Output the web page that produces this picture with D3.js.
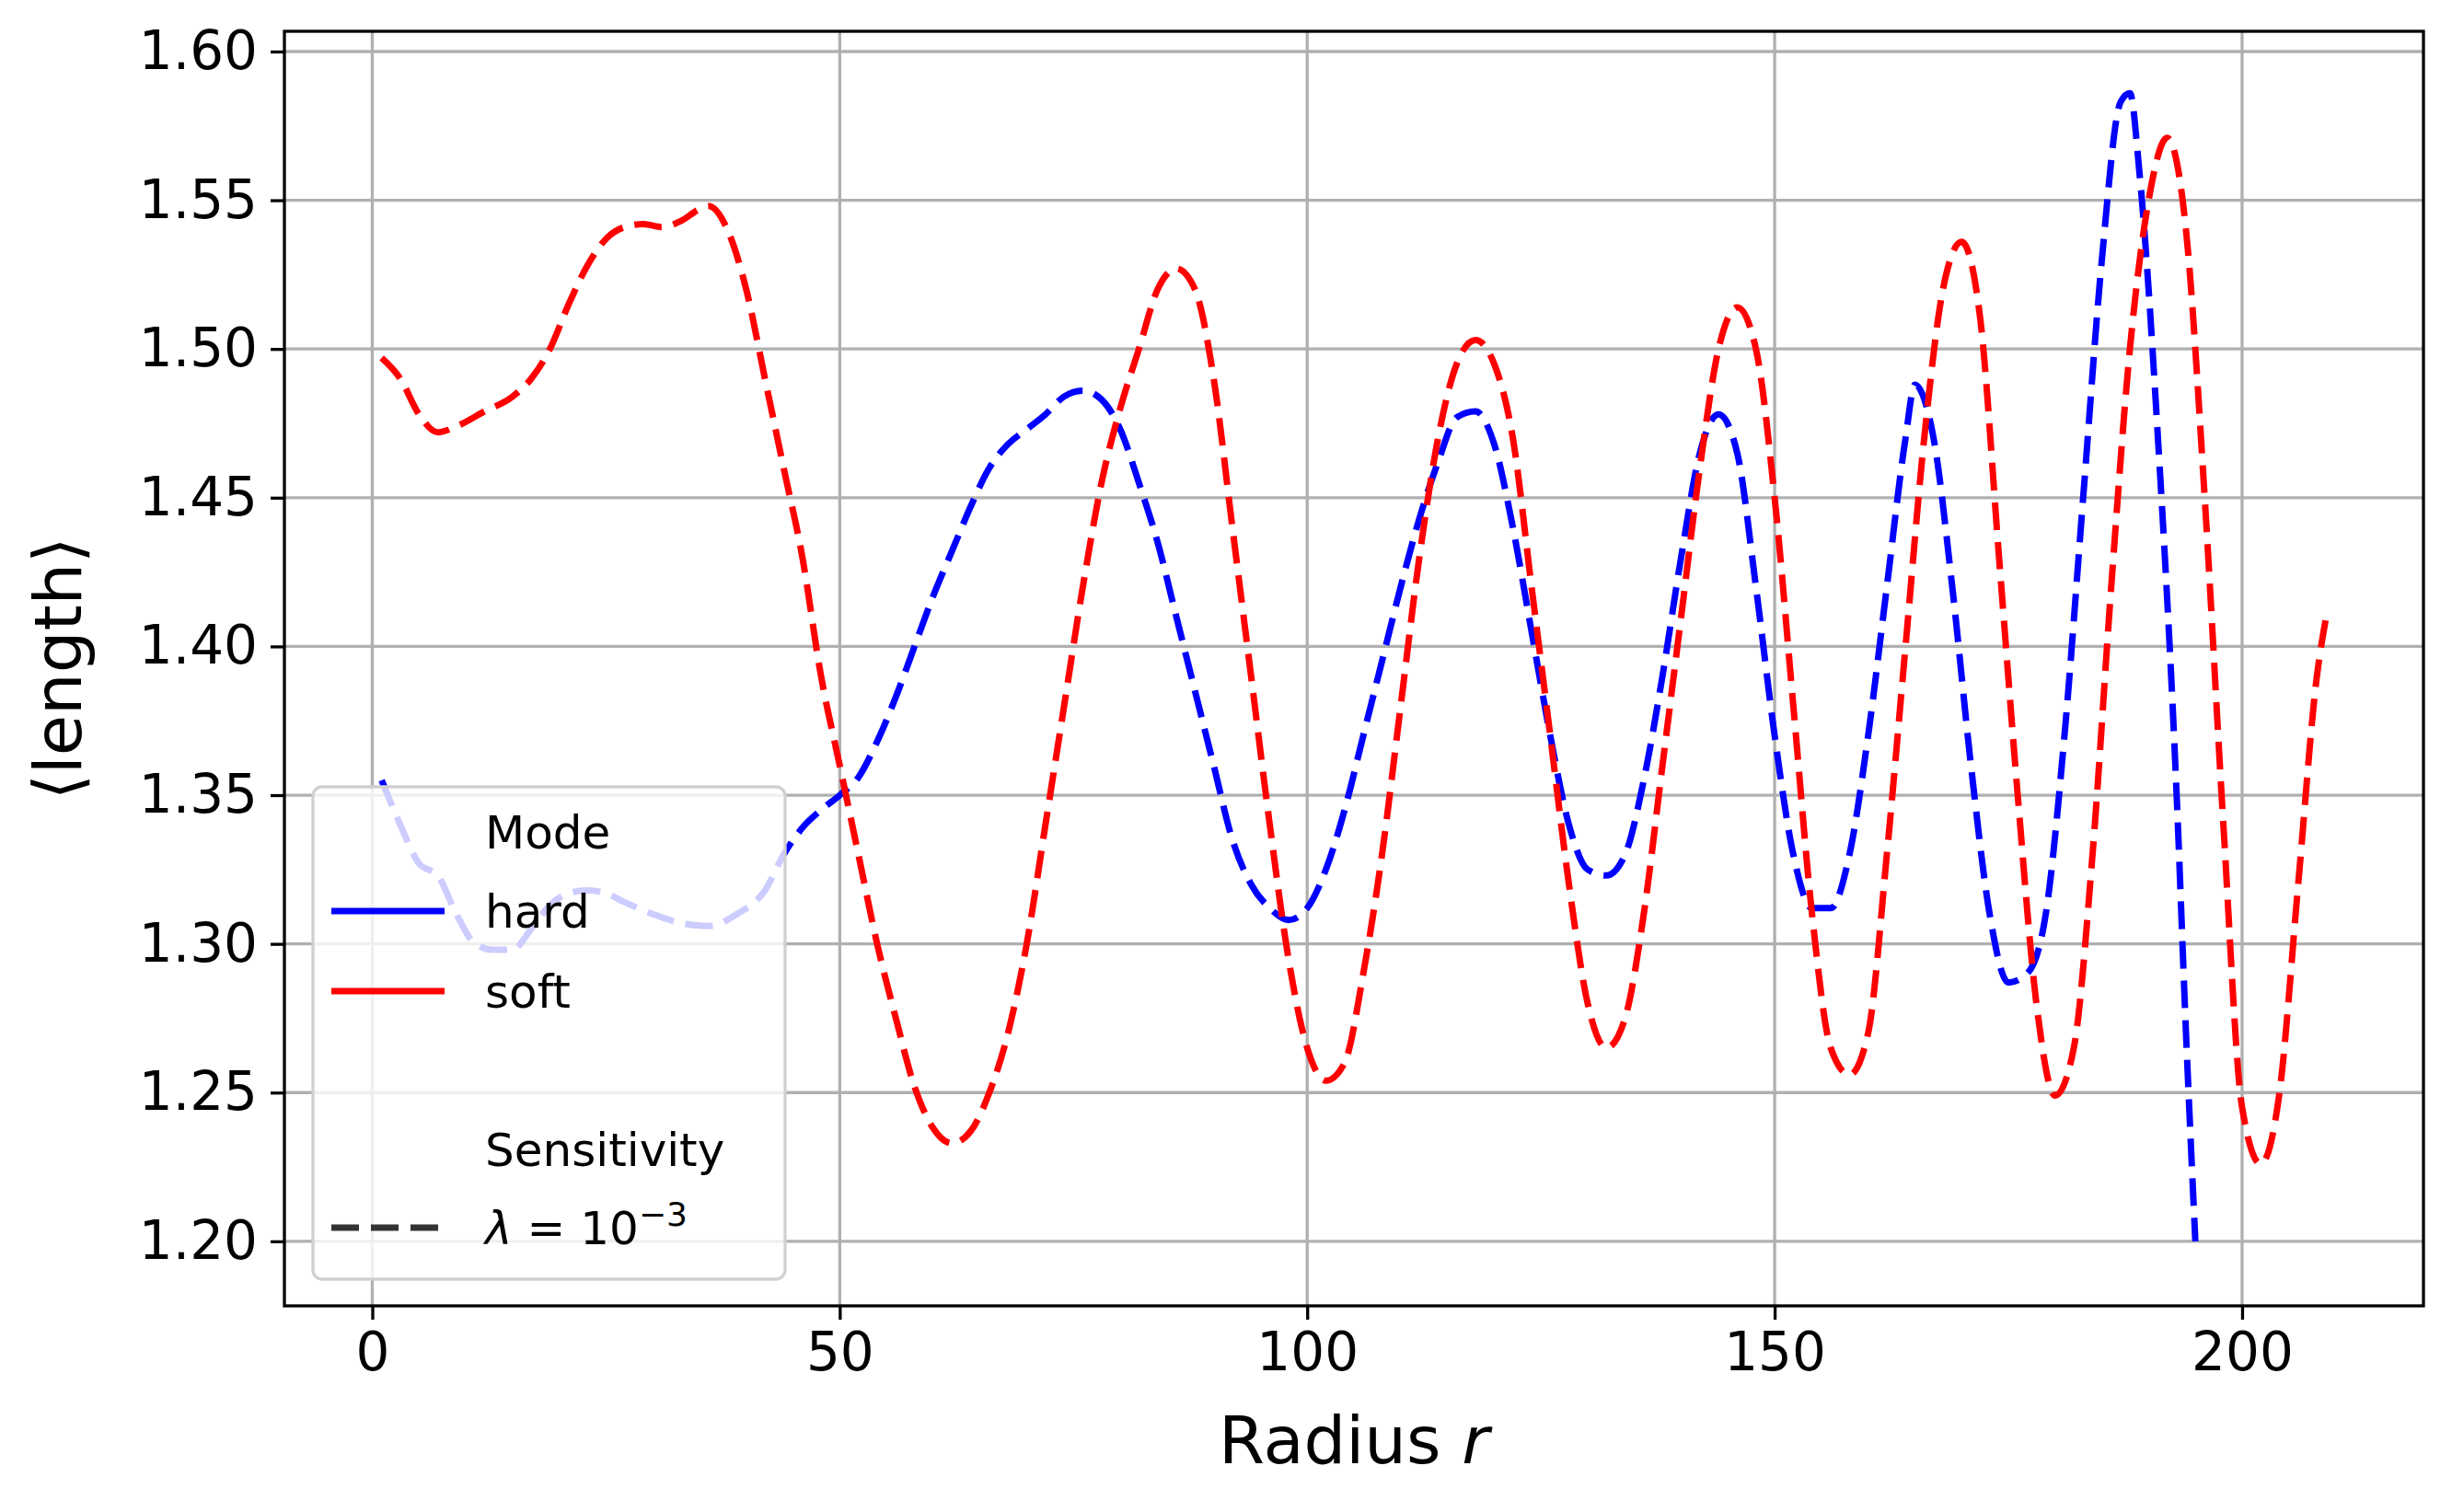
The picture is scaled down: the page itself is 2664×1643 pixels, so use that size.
<!DOCTYPE html>
<html>
<head>
<meta charset="utf-8">
<script src="https://cdn.jsdelivr.net/npm/d3@7"></script>
<style>
  body { margin: 0; background: #fff; }
  text { font-family: 'DejaVu Sans', sans-serif; }
</style>
</head>
<body>
<svg id="chart"></svg>
<script>
const softR = [1,3,5,7,9,12,15,17,19,21,23,25,27,29,31,33,35,36,38,40,42,44,46,48,50,52,54,56,58,60,62,64,66,68,70,72,74,76,78,80,82,84,86,88,90,92,94,96,98,100,102,104,106,108,110,112,114,116,118,120,122,124,126,128,130,132,134,136,138,140,142,144,146,148,150,152,154,156,158,160,162,164,166,168,170,172,174,176,178,180,182,184,186,188,190,192,194,196,198,200,202,204,206,208,209];
const softV = [1.497,1.49,1.478,1.472,1.474,1.479,1.484,1.49,1.50,1.515,1.528,1.537,1.541,1.542,1.541,1.543,1.547,1.548,1.54,1.52,1.49,1.46,1.43,1.39,1.36,1.33,1.30,1.275,1.252,1.238,1.233,1.237,1.25,1.27,1.30,1.34,1.38,1.42,1.455,1.48,1.50,1.52,1.527,1.52,1.49,1.44,1.39,1.34,1.295,1.265,1.254,1.26,1.29,1.33,1.38,1.43,1.47,1.495,1.503,1.495,1.47,1.42,1.37,1.32,1.28,1.265,1.275,1.31,1.36,1.41,1.46,1.50,1.514,1.50,1.45,1.38,1.31,1.265,1.256,1.27,1.33,1.40,1.47,1.52,1.536,1.51,1.43,1.35,1.28,1.249,1.265,1.33,1.42,1.50,1.55,1.571,1.54,1.45,1.34,1.245,1.226,1.25,1.32,1.39,1.41];
const hardR = [1,3,5,7,9,11,13,15,17,19,21,23,25,27,30,33,36,39,42,44,46,48,50,52,54,56,58,60,62,64,66,68,70,72,74,76,78,80,82,84,86,88,90,92,94,96,98,100,102,104,106,108,110,112,114,116,118,120,122,124,126,128,130,132,134,136,138,140,142,144,146,148,150,152,154,156,158,160,162,164,165,167,169,171,173,175,177,179,181,183,185,187,188,189,191,193,194,195];
const hardV = [1.355,1.34,1.327,1.323,1.31,1.30,1.298,1.298,1.305,1.313,1.317,1.318,1.317,1.314,1.31,1.307,1.306,1.31,1.318,1.33,1.339,1.345,1.35,1.356,1.368,1.383,1.40,1.417,1.432,1.447,1.46,1.468,1.473,1.478,1.484,1.486,1.483,1.473,1.455,1.435,1.41,1.385,1.36,1.335,1.32,1.312,1.308,1.312,1.325,1.345,1.37,1.395,1.42,1.443,1.462,1.477,1.479,1.468,1.44,1.405,1.37,1.34,1.325,1.323,1.33,1.355,1.39,1.43,1.465,1.478,1.465,1.42,1.37,1.33,1.312,1.312,1.33,1.37,1.42,1.47,1.488,1.47,1.42,1.36,1.31,1.287,1.29,1.31,1.37,1.45,1.53,1.583,1.586,1.56,1.47,1.35,1.27,1.2];
const xTicks = [0,50,100,150,200];
const yTicks = [1.20,1.25,1.30,1.35,1.40,1.45,1.50,1.55,1.60];

const W = 2664, H = 1643;
const L = 309, R = 2633, T = 34, B = 1419;
const svg = d3.select('#chart').attr('width', W).attr('height', H);

const x = d3.scaleLinear().domain([-9.4, 219.4]).range([L, R]);
const y = d3.scaleLinear().domain([1.1783, 1.6068]).range([B, T]);

// grid
svg.append('g').selectAll('line').data(xTicks).enter().append('line')
  .attr('x1', d => x(d)).attr('x2', d => x(d)).attr('y1', T).attr('y2', B)
  .style('stroke', '#b0b0b0').style('stroke-width', 3.3);
svg.append('g').selectAll('line').data(yTicks).enter().append('line')
  .attr('y1', d => y(d)).attr('y2', d => y(d)).attr('x1', L).attr('x2', R)
  .style('stroke', '#b0b0b0').style('stroke-width', 3.3);

const line = d3.line().curve(d3.curveMonotoneX).x(d => x(d[0])).y(d => y(d[1]));
const series = [
  { r: hardR, v: hardV, color: '#0000ff' },
  { r: softR, v: softV, color: '#ff0000' }
];
svg.append('g').selectAll('path').data(series).enter().append('path')
  .attr('d', d => line(d.r.map((r, i) => [r, d.v[i]])))
  .style('fill', 'none').style('stroke', d => d.color)
  .style('stroke-width', 7).style('stroke-dasharray', '30,13');

// axes
const xAxis = svg.append('g').attr('transform', `translate(0,${B})`)
  .call(d3.axisBottom(x).tickValues(xTicks).tickSize(15).tickPadding(14).tickFormat(d3.format('d')));
const yAxis = svg.append('g').attr('transform', `translate(${L},0)`)
  .call(d3.axisLeft(y).tickValues(yTicks).tickSize(15).tickPadding(14).tickFormat(d3.format('.2f')));
[xAxis, yAxis].forEach(a => {
  a.select('.domain').remove();
  a.selectAll('line').style('stroke', '#000').style('stroke-width', 3.3);
  a.selectAll('text').style('font-size', '58px').style('font-family', 'DejaVu Sans').style('fill', '#000');
});
svg.append('rect').attr('x', L).attr('y', T).attr('width', R - L).attr('height', B - T)
  .style('fill', 'none').style('stroke', '#000').style('stroke-width', 3.3);

svg.append('text').attr('x', (L + R) / 2).attr('y', 1590).attr('text-anchor', 'middle')
  .style('font-size', '72px').html('Radius <tspan font-style="italic">r</tspan>');
svg.append('text').attr('transform', `translate(88,${(T + B) / 2}) rotate(-90)`).attr('text-anchor', 'middle')
  .style('font-size', '72px').text('⟨length⟩');

// legend
const lg = svg.append('g');
lg.append('rect').attr('x', 340).attr('y', 855).attr('width', 513).attr('height', 535).attr('rx', 10)
  .style('fill', 'rgba(255,255,255,0.8)').style('stroke', '#d0d0d0').style('stroke-width', 3.3);
const entries = [
  { y: 904, text: 'Mode' },
  { y: 990, text: 'hard', color: '#0000ff' },
  { y: 1077, text: 'soft', color: '#ff0000' },
  { y: 1249, text: 'Sensitivity' }
];
entries.forEach(e => {
  if (e.color) lg.append('line').attr('x1', 360).attr('x2', 483).attr('y1', e.y).attr('y2', e.y)
    .style('stroke', e.color).style('stroke-width', 7);
  lg.append('text').attr('x', 527).attr('y', e.y).attr('dy', '0.35em').style('font-size', '50px').text(e.text);
});
lg.append('line').attr('x1', 360).attr('x2', 483).attr('y1', 1334).attr('y2', 1334)
  .style('stroke', '#333').style('stroke-width', 7).style('stroke-dasharray', '30,13');
lg.append('text').attr('x', 527).attr('y', 1334).attr('dy', '0.35em').style('font-size', '50px')
  .html('<tspan font-style="italic">λ</tspan> = 10<tspan dy="-20" font-size="36px">−3</tspan>');
</script>
</body>
</html>
